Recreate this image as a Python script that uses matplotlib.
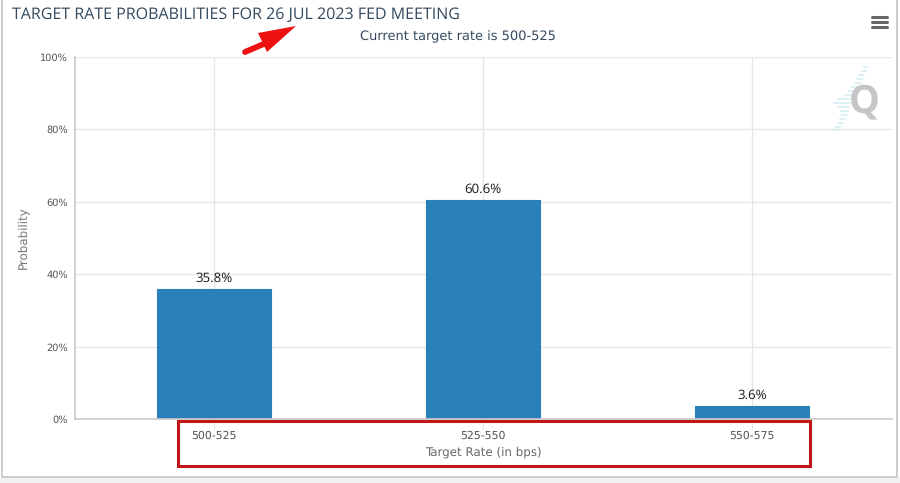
import matplotlib
matplotlib.use('Agg')
import matplotlib.pyplot as plt
from matplotlib.patches import Rectangle

categories = ['500-525', '525-550', '550-575']
probabilities = [35.8, 60.6, 3.6]
y_ticks = [0, 20, 40, 60, 80, 100]
y_labels = ['0%', '20%', '40%', '60%', '80%', '100%']

plt.rcParams['font.family'] = ['DejaVu Sans']
plt.rcParams['text.hinting'] = 'no_hinting'

W, H = 900, 483
fig = plt.figure(figsize=(9, 4.83), dpi=100, facecolor='white')

# plot area in pixels
left, right, top, bottom = 75, 892, 57, 419
ax = fig.add_axes([left / W, 1 - bottom / H, (right - left) / W, (bottom - top) / H])
ax.set_xlim(-0.517, 2.521)
ax.set_ylim(0, 100)

ax.grid(True, color='#e6e6e6', linewidth=1)
ax.set_axisbelow(True)
ax.bar(range(len(categories)), probabilities, width=0.423, color='#2980b9',
       edgecolor='#2980b9', linewidth=0.8, joinstyle='round')

for i, v in enumerate(probabilities):
    ax.text(i, v + 1.1, f'{v}%', ha='center', va='bottom', fontsize=9.5,
            family='Open Sans', color='#1a1a1a')

ax.set_xticks(range(len(categories)))
ax.set_xticklabels(categories, fontsize=7.8, color='#555555')
ax.set_yticks(y_ticks)
ax.set_yticklabels(y_labels, fontsize=7, color='#555555')
ax.tick_params(axis='x', length=7, color='#e6e6e6', pad=1)
ax.tick_params(axis='y', length=0, pad=5)
ax.set_xlabel('Target Rate (in bps)', fontsize=8.6, color='#666666', labelpad=4)
ax.set_ylabel('Probability', fontsize=8.6, color='#777777', labelpad=8)

for side in ['top', 'right']:
    ax.spines[side].set_visible(False)
for side in ['left', 'bottom']:
    ax.spines[side].set_color('#c8c8c8')
    ax.spines[side].set_linewidth(1.2)

# overlay in pixel coordinates for the page furniture
ov = fig.add_axes([0, 0, 1, 1], facecolor='none')
ov.set_xlim(0, W)
ov.set_ylim(H, 0)
ov.axis('off')

ov.add_patch(Rectangle((0, 477), W, 6, facecolor='#f1f1f1', edgecolor='none'))
ov.plot([2, 2, 897, 897], [0, 477, 477, 0], color='#c4c4c4', linewidth=1.2)

ov.text(12, 15, 'TARGET RATE PROBABILITIES FOR 26 JUL 2023 FED MEETING', fontsize=11.5,
        family='Open Sans', color='#34495e', va='center', ha='left')
ov.text(458, 36.5, 'Current target rate is 500-525', fontsize=9.35,
        color='#34495e', va='center', ha='center')

# menu icon
for y in [17, 22, 27]:
    ov.plot([872, 887], [y, y], color='#666666', linewidth=2.2, solid_capstyle='round')

# watermark
for y, x0, x1 in [(67, 864, 867), (71, 862, 866), (75, 859, 864), (79, 857, 862), (83, 855, 861),
                  (87, 852, 860), (91, 849, 859), (95, 845, 857), (99, 838, 851), (103, 834, 850),
                  (107, 838, 849), (111, 841, 848), (115, 842, 847), (119, 840, 845), (123, 838, 843),
                  (127, 836, 840), (130, 834, 838)]:
    ov.plot([x0, x1], [y, y], color='#d5eef3', linewidth=1.2)
ov.text(864, 102, 'Q', fontsize=28, family='Open Sans', fontweight='bold', color='#c6c6c6', ha='center', va='center')

# red arrow and box
ov.plot([245, 266], [52, 43], color='#ee1111', linewidth=4.2, solid_capstyle='round')
ov.fill([296, 258, 267], [26, 33, 52], color='#ee1111', linewidth=0)
ov.add_patch(Rectangle((177.5, 421), 632, 45, facecolor='none', edgecolor='#c01818', linewidth=2.2))

fig.savefig('out.png', dpi=100)
